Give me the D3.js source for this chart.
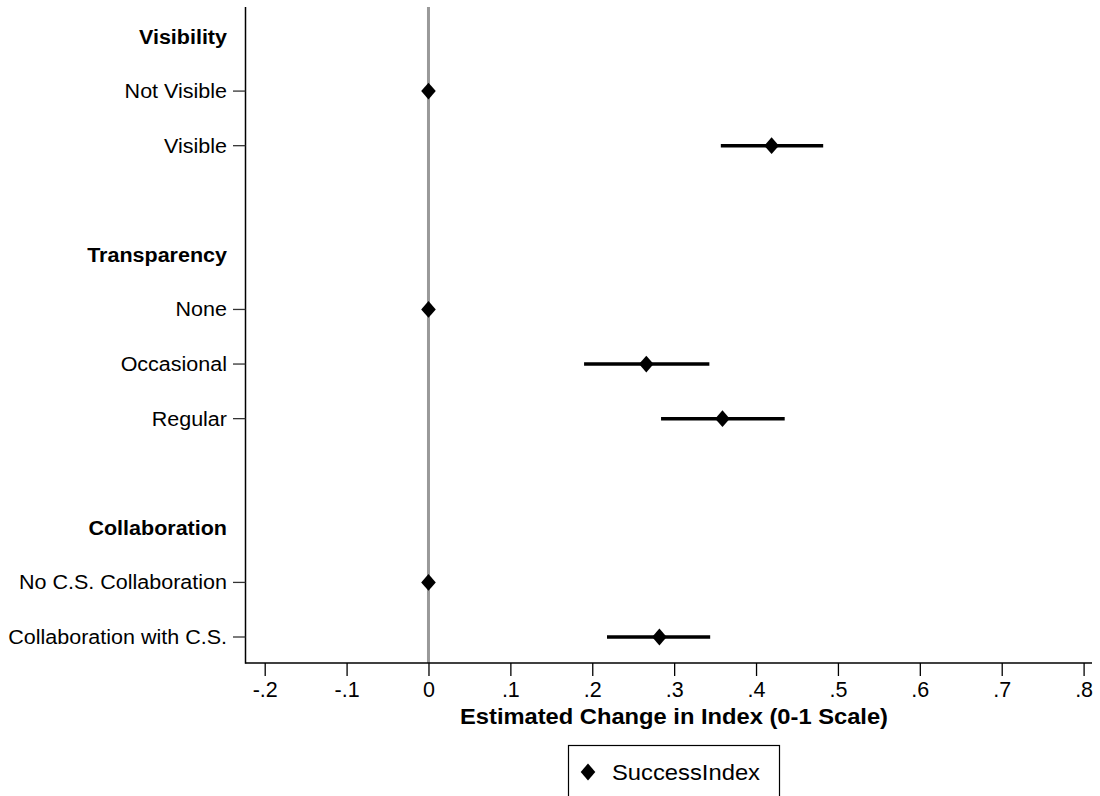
<!DOCTYPE html>
<html><head><meta charset="utf-8">
<script src="https://cdn.jsdelivr.net/npm/d3@7"></script>
<style>body{margin:0;background:#fff;} svg{display:block;font-family:"Liberation Sans",Arial,sans-serif;}</style>
</head><body>
<svg id="c" width="1100" height="796"></svg>
<script>
const rows = ["Visibility","Not Visible","Visible","","Transparency","None","Occasional","Regular","","Collaboration","No C.S. Collaboration","Collaboration with C.S."];
const headers = ["Visibility","Transparency","Collaboration"];
const categories = ["Not Visible","Visible","None","Occasional","Regular","No C.S. Collaboration","Collaboration with C.S."];
const estimates = [0, 0.419, 0, 0.266, 0.359, 0, 0.282];
const ciLow = [null, 0.357, null, 0.190, 0.284, null, 0.218];
const ciHigh = [null, 0.482, null, 0.343, 0.435, null, 0.344];
const xTicks = [-0.2,-0.1,0,0.1,0.2,0.3,0.4,0.5,0.6,0.7,0.8];
const xTickLabels = ["-.2","-.1","0",".1",".2",".3",".4",".5",".6",".7",".8"];
const seriesName = "SuccessIndex";

(function(){
const svg = d3.select("#c");
const x = d3.scaleLinear().domain([-0.2,0.8]).range([264.7,1083.6]);
const y = d3.scalePoint().domain(rows.map((r,i)=>i)).range([36.5,637]);
const pLeft = 245.5, pTop = 7, pBottom = 663, pRight = 1092;
const SX = 1.075;
function stretch(sel, f){ sel.each(function(){ const L=this.getComputedTextLength(); d3.select(this).attr("textLength",L*(f||SX)).attr("lengthAdjust","spacingAndGlyphs"); }); }

svg.append("line").attr("x1",x(0)).attr("x2",x(0)).attr("y1",pTop).attr("y2",pBottom)
  .attr("stroke","#999").attr("stroke-width",3);

svg.append("line").attr("x1",pLeft).attr("x2",pLeft).attr("y1",pTop).attr("y2",pBottom+0.7).attr("stroke","#000").attr("stroke-width",1.5);
svg.append("line").attr("x1",pLeft).attr("x2",pRight).attr("y1",pBottom).attr("y2",pBottom).attr("stroke","#000").attr("stroke-width",1.5);

const xa = svg.append("g").attr("transform",`translate(0,${pBottom})`)
  .call(d3.axisBottom(x).tickValues(xTicks).tickFormat((d,i)=>xTickLabels[i]).tickSize(13).tickPadding(6));
xa.select(".domain").remove();
xa.selectAll("line").attr("stroke","#000").attr("stroke-width",1.3);
xa.selectAll("text").attr("font-size",21.5).attr("fill","#000").attr("font-family","Liberation Sans, Arial");

const t = svg.append("text").attr("x",674).attr("y",723.5).attr("text-anchor","middle")
  .attr("font-size",22).attr("font-weight","bold").attr("fill","#000").text("Estimated Change in Index (0-1 Scale)");
stretch(t, 428/ t.node().getComputedTextLength());

rows.forEach((r,i)=>{
  if(!r) return;
  const isH = headers.includes(r);
  const tx = svg.append("text").attr("x",227).attr("y",y(i)).attr("dy","0.35em").attr("text-anchor","end")
    .attr("font-size",20).attr("font-weight",isH?"bold":"normal").attr("fill","#000").text(r);
  stretch(tx);
  if(!isH){
    svg.append("line").attr("x1",233).attr("x2",pLeft).attr("y1",y(i)).attr("y2",y(i)).attr("stroke","#333").attr("stroke-width",1.3);
  }
});

const diamondType = { draw(ctx, size){ const w=7.3, h=8.4; ctx.moveTo(0,-h); ctx.lineTo(w,0); ctx.lineTo(0,h); ctx.lineTo(-w,0); ctx.closePath(); } };
const diamond = d3.symbol().type(diamondType);

const rowIdx = c => rows.indexOf(c);
categories.forEach((c,i)=>{
  if(ciLow[i]==null) return;
  svg.append("line").attr("x1",x(ciLow[i])).attr("x2",x(ciHigh[i])).attr("y1",y(rowIdx(c))).attr("y2",y(rowIdx(c)))
    .attr("stroke","#000").attr("stroke-width",3.5);
});
categories.forEach((c,i)=>{
  svg.append("path").attr("d",diamond).attr("transform",`translate(${x(estimates[i])},${y(rowIdx(c))})`).attr("fill","#000");
});

svg.append("rect").attr("x",568.5).attr("y",745.5).attr("width",211).attr("height",60).attr("fill","#fff").attr("stroke","#000").attr("stroke-width",1.2);
svg.append("path").attr("d",diamond).attr("transform","translate(588,772)").attr("fill","#000");
const lt = svg.append("text").attr("x",612).attr("y",772).attr("dy","0.35em").attr("font-size",22).attr("fill","#000").text(seriesName);
stretch(lt, 148/ lt.node().getComputedTextLength());
})();
</script>
</body></html>
